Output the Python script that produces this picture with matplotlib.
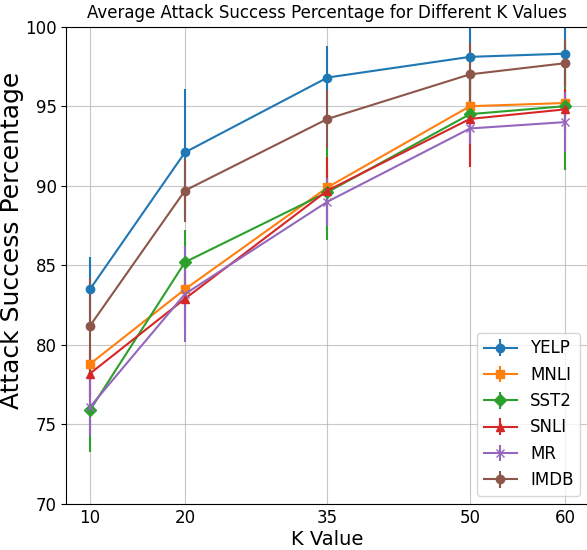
import numpy as np
import matplotlib
matplotlib.use("Agg")
import matplotlib.pyplot as plt

k_values = [10, 20, 35, 50, 60]

names = ["YELP", "MNLI", "SST2", "SNLI", "MR", "IMDB"]
markers = ["o", "s", "D", "^", "x", "o"]

yelp = [83.5, 92.1, 96.8, 98.1, 98.3]
mnli = [78.8, 83.5, 89.9, 95.0, 95.2]
sst2 = [75.9, 85.2, 89.6, 94.5, 95.0]
snli = [78.2, 82.9, 89.7, 94.2, 94.8]
mr = [76.1, 83.2, 89.0, 93.6, 94.0]
imdb = [81.2, 89.7, 94.2, 97.0, 97.7]

yelp_err = [2.0, 4.0, 2.0, 2.2, 2.0]
mnli_err = [1.0, 1.0, 1.0, 1.0, 1.0]
sst2_err = [2.6, 2.0, 3.0, 2.5, 4.0]
snli_err = [1.5, 1.5, 2.1, 3.0, 1.3]
mr_err = [1.8, 3.0, 1.5, 1.0, 1.9]
imdb_err = [3.0, 2.0, 1.8, 2.0, 1.5]

means = [yelp, mnli, sst2, snli, mr, imdb]
errs = [yelp_err, mnli_err, sst2_err, snli_err, mr_err, imdb_err]

fig = plt.figure(figsize=(5.87, 5.5), dpi=100)
ax = fig.add_axes([0.1129, 0.0836, 0.890, 0.868])

for name, m, e, mk in zip(names, means, errs, markers):
    ax.errorbar(k_values, m, yerr=e, marker=mk, markersize=6, linewidth=1.5, label=name)

ax.set_xticks(k_values)
ax.set_ylim(70, 100)
ax.set_yticks(np.arange(70, 101, 5))
ax.tick_params(labelsize=12)
ax.tick_params(axis="x", length=0, pad=3.5)
ax.grid(True, alpha=0.7)
ax.set_title("Average Attack Success Percentage for Different K Values", fontsize=12)
ax.set_xlabel("K Value", fontsize=14, labelpad=2)
ax.set_ylabel("Attack Success Percentage", fontsize=18)
ax.yaxis.set_label_coords(-0.081, 0.552)
ax.legend(loc="lower right", fontsize=12)

fig.savefig("out.png", dpi=100)
